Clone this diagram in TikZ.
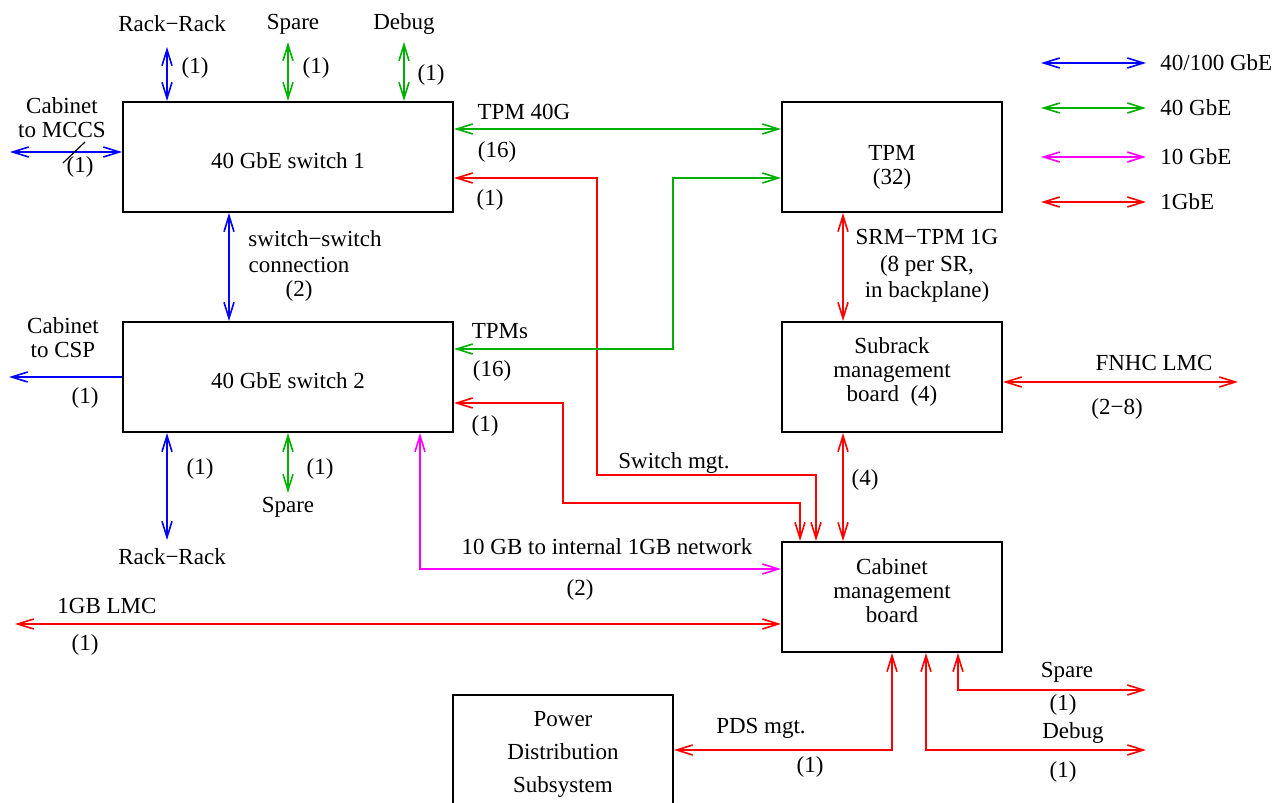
\documentclass[tikz,border=0pt]{standalone}
\usepackage{fontspec}
\setmainfont{Liberation Serif}
\usetikzlibrary{arrows.meta}
\definecolor{cblue}{RGB}{0,0,255}
\definecolor{cgreen}{RGB}{0,176,0}
\definecolor{cmag}{RGB}{255,0,255}
\definecolor{cred}{RGB}{255,0,0}
\begin{document}
\begin{tikzpicture}[x=0.5pt,y=-0.5pt,
  box/.style={draw, line width=1pt, inner sep=0pt, minimum width=165pt, minimum height=55pt},
  sbox/.style={box, minimum width=110pt},
  txt/.style={inner sep=0pt, align=center, font=\fontsize{11.5}{12}\selectfont},
  ln/.style={line width=0.8pt},
  one/.style={-{Straight Barb[length=8pt,width=5pt]}},
  two/.style={{Straight Barb[length=8pt,width=5pt]}-{Straight Barb[length=8pt,width=5pt]}},
  bl/.style={ln, draw=cblue},
  gr/.style={ln, draw=cgreen},
  mg/.style={ln, draw=cmag},
  rd/.style={ln, draw=cred}]
\useasboundingbox (0,0) rectangle (1283,802);

% boxes
\node[box] (sw1) at (288,157) {};
\node[box] (sw2) at (288,377) {};
\node[sbox] (tpm) at (892,157) {};
\node[sbox] (srm) at (892,377) {};
\node[sbox] (cmb) at (892,597) {};
\node[sbox, minimum height=59pt] (pds) at (563,754) {};

% box texts
\node[txt] (tsw1) at (288,161) {40 GbE switch 1};
\node[txt] (tsw2) at (288,381) {40 GbE switch 2};
\node[txt] (ttpm) at (892,167) {TPM\\(32)};
\node[txt] (tsrm) at (892,372) {Subrack\\management\\board\ \ (4)};
\node[txt] (tcmb) at (892,591) {Cabinet\\management\\board};
\node[txt, font=\fontsize{11.5}{16.5}\selectfont] (tpds) at (563,754) {Power\\Distribution\\Subsystem};

% free ends and corners
\coordinate (rr1) at (167,47);
\coordinate (sp1) at (288,42);
\coordinate (db1) at (404,42);
\coordinate (mc) at (10,152);
\coordinate (csp) at (9,377);
\coordinate (rr2) at (167,540);
\coordinate (sp2) at (288,493);
\coordinate (sm1) at (597,475);
\coordinate (s2c) at (563,503);
\coordinate (tg) at (673,349);
\coordinate (mgc) at (420,569);
\coordinate (lmc) at (15,624);
\coordinate (fn) at (1238,382);
\coordinate (pc) at (892,750);
\coordinate (dbc) at (926,750);
\coordinate (db2) at (1146,750);
\coordinate (spc) at (958,690);
\coordinate (sp3) at (1146,690);

% switch 1 top
\draw[bl,two] (rr1) -- (rr1 |- sw1.north);
\draw[gr,two] (sp1) -- (sp1 |- sw1.north);
\draw[gr,two] (db1) -- (db1 |- sw1.north);
\node[txt] (lrr1) at (172,24) {Rack−Rack};
\node[txt] (lsp1) at (293,24) {Spare};
\node[txt] (ldb1) at (404,24) {Debug};
\node[txt] (n1) at (195,68) {(1)};
\node[txt] (n2) at (316,68) {(1)};
\node[txt] (n3) at (431,75) {(1)};

% MCCS
\draw[bl,two] (mc) -- (mc -| sw1.west);
\draw[line width=0.6pt] (63,163) -- (85,142);
\node[txt] (lmccs) at (62,118) {Cabinet\\to MCCS};
\node[txt] (n4) at (80,167) {(1)};

% switch-switch
\draw[bl,two] ([xshift=-29.5pt]sw1.south) -- ([xshift=-29.5pt]sw2.north);
\node[txt] (lss) at (315,239) {switch−switch};
\node[txt] (lss2) at (299,265) {connection};
\node[txt] (n5) at (299,291) {(2)};

% TPM 40G
\draw[gr,two] ([yshift=14pt]sw1.east) -- ([yshift=14pt]tpm.west);
\node[txt] (ltpm) at (524,112) {TPM 40G};
\node[txt] (n6) at (497,152) {(16)};

% switch mgt
\draw[rd,two] ([yshift=-10.5pt]sw1.east) -| (sm1) -| ([xshift=-38pt]cmb.north);
\node[txt] (n7) at (490,200) {(1)};
\node[txt] (lsm) at (674,463) {Switch mgt.};
\draw[rd,two] ([yshift=-13pt]sw2.east) -| (s2c) -| ([xshift=-46pt]cmb.north);
\node[txt] (n8) at (485,426) {(1)};

% TPMs
\draw[gr,two] ([yshift=-10.5pt]tpm.west) -| (tg) -- (tg -| sw2.east);
\node[txt] (ltpms) at (500,331) {TPMs};
\node[txt] (n9) at (492,371) {(16)};

% CSP
\draw[bl,one] (sw2.west) -- (csp);
\node[txt] (lcsp) at (63,338) {Cabinet\\to CSP};
\node[txt] (n10) at (85,398) {(1)};

% switch 2 bottom
\draw[bl,two] (rr2 |- sw2.south) -- (rr2);
\draw[gr,two] (sp2 |- sw2.south) -- (sp2);
\node[txt] (n11) at (200,469) {(1)};
\node[txt] (n12) at (320,469) {(1)};
\node[txt] (lrr2) at (172,557) {Rack−Rack};
\node[txt] (lsp2) at (288,507) {Spare};

% 10 GB
\draw[mg,two] ([xshift=66pt]sw2.south) -- (mgc) -- (mgc -| cmb.west);
\node[txt] (l10) at (607,547) {10 GB to internal 1GB network};
\node[txt] (n13) at (580,590) {(2)};

% 1GB LMC
\draw[rd,two] (lmc) -- (lmc -| cmb.west);
\node[txt] (llmc) at (107,606) {1GB LMC};
\node[txt] (n14) at (85,645) {(1)};

% TPM - SRM
\draw[rd,two] ([xshift=-24.5pt]tpm.south) -- ([xshift=-24.5pt]srm.north);
\node[txt, font=\fontsize{11.5}{13.3}\selectfont] (lsrm) at (927,266) {SRM−TPM 1G\\(8 per SR,\\in backplane)};

% SRM - CMB
\draw[rd,two] ([xshift=-24.5pt]srm.south) -- ([xshift=-24.5pt]cmb.north);
\node[txt] (n15) at (865,480) {(4)};

% FNHC LMC
\draw[rd,two] (fn -| srm.east) -- (fn);
\node[txt] (lfn) at (1154,363) {FNHC LMC};
\node[txt] (n16) at (1117,409) {(2−8)};

% cabinet bottom
\draw[rd,two] (cmb.south) -- (pc) -- (pc -| pds.east);
\node[txt] (lpds) at (761,728) {PDS mgt.};
\node[txt] (n17) at (810,767) {(1)};
\draw[rd,two] ([xshift=17pt]cmb.south) -- (dbc) -- (db2);
\node[txt] (ldb2) at (1073,733) {Debug};
\node[txt] (n18) at (1063,772) {(1)};
\draw[rd,two] ([xshift=33pt]cmb.south) -- (spc) -- (sp3);
\node[txt] (lsp3) at (1067,672) {Spare};
\node[txt] (n19) at (1063,705) {(1)};

% legend
\coordinate (ga) at (1041,63);
\coordinate (gb) at (1146,63);
\coordinate (gc) at (1041,108);
\coordinate (gd) at (1146,108);
\coordinate (ge) at (1041,157);
\coordinate (gf) at (1146,157);
\coordinate (gg) at (1041,202);
\coordinate (gh) at (1146,202);
\draw[bl,two] (ga) -- (gb);
\draw[gr,two] (gc) -- (gd);
\draw[mg,two] (ge) -- (gf);
\draw[rd,two] (gg) -- (gh);
\node[txt, anchor=west] (lg1) at (1160,63) {40/100 GbE};
\node[txt, anchor=west] (lg2) at (1160,108) {40 GbE};
\node[txt, anchor=west] (lg3) at (1160,157) {10 GbE};
\node[txt, anchor=west] (lg4) at (1160,202) {1GbE};
\end{tikzpicture}
\end{document}
